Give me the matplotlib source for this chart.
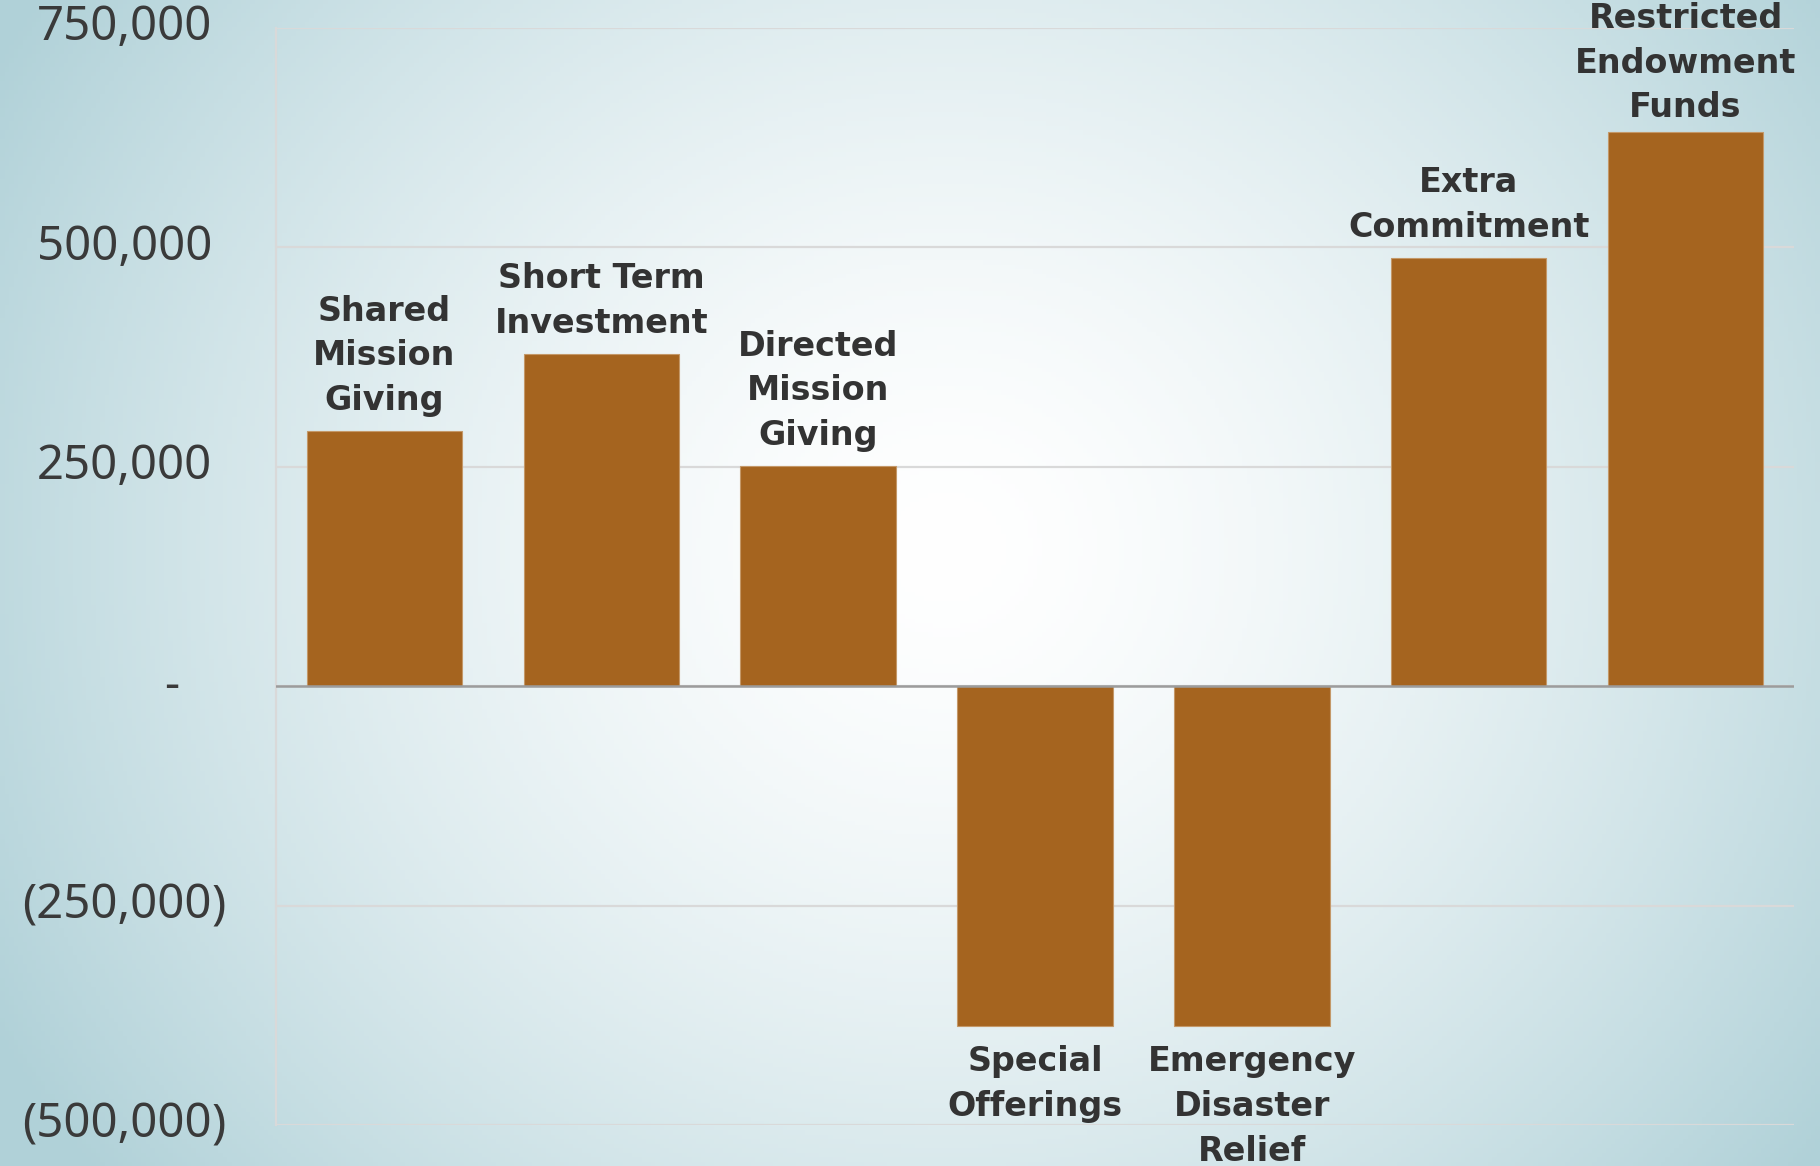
import matplotlib
matplotlib.use("Agg")
import matplotlib.pyplot as plt
import matplotlib.transforms as mtransforms
import numpy as np
from matplotlib.colors import to_rgb

# fund movements for the year
categories = ["Shared\nMission\nGiving", "Short Term\nInvestment", "Directed\nMission\nGiving",
              "Special\nOfferings", "Emergency\nDisaster\nRelief", "Extra\nCommitment",
              "Restricted\nEndowment\nFunds"]
amounts = [291000, 379000, 251000, -387000, -387000, 488000, 631000]
y_ticks = [750000, 500000, 250000, 0, -250000, -500000]

BAR_COLOR = "#a5641f"
TEXT_COLOR = "#333333"
W, H = 1820, 1166

fig = plt.figure(figsize=(W / 100, H / 100), dpi=100)

# radial backdrop: white in the middle fading to pale teal at the edges
bg = fig.add_axes([0, 0, 1, 1], zorder=-10)
gx, gy = np.meshgrid(np.linspace(0, 1, 400), np.linspace(0, 1, 260))
r = np.sqrt(((gx - 0.52) / 0.6) ** 2 + ((gy - 0.47) / 0.87) ** 2)
t = np.clip(r, 0, 1) ** 1.5
edge = np.array(to_rgb("#b0d1d8"))
img = (1 - t)[..., None] * np.ones(3) + t[..., None] * edge
bg.imshow(img, extent=[0, 1, 0, 1], aspect="auto", origin="upper")
bg.axis("off")

ax = fig.add_axes([276 / W, 1 - 1125 / H, 1518 / W, (1125 - 28) / H])
ax.set_facecolor("none")

x = np.arange(len(categories))
bars = ax.bar(x, amounts, width=0.717, color=BAR_COLOR, edgecolor="#c49868",
              linewidth=0.8, zorder=3)

ax.set_xlim(-0.5, len(categories) - 0.5)
ax.set_ylim(-500000, 750000)
ax.set_yticks(y_ticks)
ax.yaxis.grid(True, color="#d9d9d9", linewidth=1.6, zorder=0)
ax.set_axisbelow(True)
ax.axhline(0, color="#9c9c9c", linewidth=1.8, zorder=4)
ax.set_xticks([])
ax.tick_params(axis="y", length=0, labelleft=False)
for side in ["top", "right", "bottom"]:
    ax.spines[side].set_visible(False)
ax.spines["left"].set_color("#d9d9d9")
ax.spines["left"].set_linewidth(1.6)

# accounting style y labels: digits right aligned, ")" hanging past them
tick_tr = mtransforms.blended_transform_factory(ax.transAxes, ax.transData)
x0 = (212 - 276) / 1518
tick_font = dict(fontsize=34, color="#3a3a3a", family="Noto Sans", va="center")
for v in y_ticks:
    if v > 0:
        ax.text(x0, v, f"{v:,}", ha="right", transform=tick_tr, **tick_font)
    elif v < 0:
        ax.text(x0, v, f"({-v:,}", ha="right", transform=tick_tr, **tick_font)
        ax.text(x0, v, ")", ha="left", transform=tick_tr, **tick_font)
    else:
        ax.text((172 - 276) / 1518, v, "-", ha="center", transform=tick_tr, **tick_font)

# category names sit at the outer end of each bar
labels = []
for xi, val, name in zip(x, amounts, categories):
    up = val >= 0
    ann = ax.annotate(name, (xi, val), xytext=(0, 10 if up else -14),
                      textcoords="offset points", ha="center",
                      va="bottom" if up else "top", fontsize=24, fontweight="bold",
                      color=TEXT_COLOR, linespacing=1.45, annotation_clip=False)
    labels.append(ann)

# keep labels from running off the top edge of the chart
renderer = fig.canvas.get_renderer()
for ann in labels:
    bb = ann.get_window_extent(renderer)
    if bb.y1 > H - 2:
        dx, dy = ann.xyann
        ann.xyann = (dx, dy - (bb.y1 - H + 2) * 72 / 100)

fig.savefig("out.png", dpi=100)
